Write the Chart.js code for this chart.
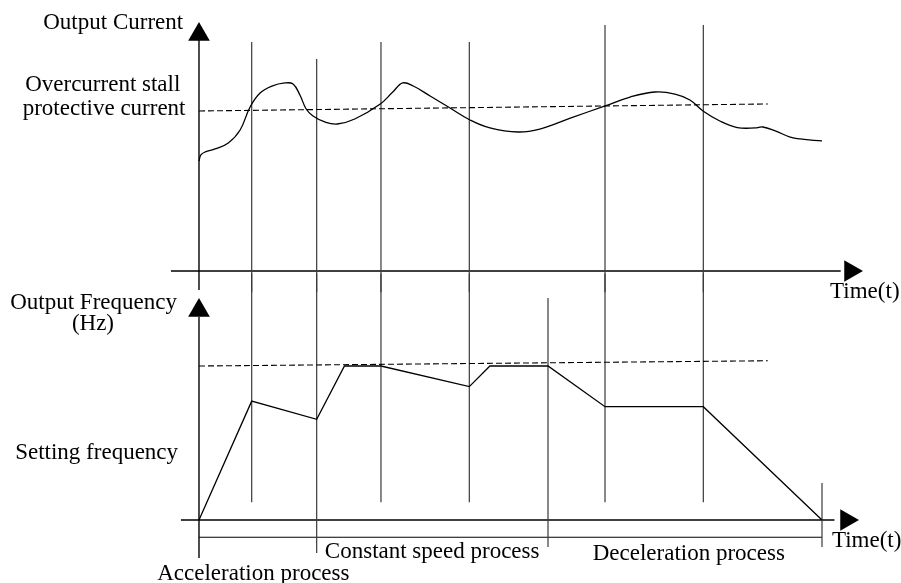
<!DOCTYPE html>
<html><head><meta charset="utf-8">
<script src="https://cdn.jsdelivr.net/npm/chart.js@4"></script>
<style>html,body{margin:0;padding:0;background:#fff;overflow:hidden}canvas{display:block}</style>
</head><body>
<canvas id="c" width="901" height="583"></canvas>
<script>
// ---- data (time in arbitrary units: 0 = start, 100 = stop) ----
const currentTime  = [0, 0.3, 1.0, 2.6, 4.7, 6.6, 8.2, 9.8, 11.7, 13.8, 15.1, 16.2, 17.2, 18.3, 20.2, 22.2, 25.0, 29.1, 31.1, 32.7, 34.4, 37.1, 40.3, 43.5, 46.7, 51.2, 54.7, 59.6, 65.2, 69.2, 73.2, 76.4, 78.8, 80.9, 83.6, 86.4, 89.3, 90.5, 92.5, 94.9, 96.5, 100];
const currentValue = [103, 108.8, 111.6, 114.4, 120, 132.2, 153.8, 166.9, 173.4, 176.3, 175.3, 165, 151.9, 145.3, 139.7, 137.8, 142.5, 156.6, 167.8, 176.3, 173.4, 164.1, 152.8, 141.6, 134.1, 130.3, 133.1, 143.4, 154.7, 163.1, 167.8, 165.9, 160.3, 150, 140.6, 134.5, 134.1, 135, 131.3, 125.6, 123.8, 121.9];
const stallTime    = [0, 91.3];
const stallCurrent = [150, 156.6];

const freqTime     = [0, 8.46, 18.89, 23.35, 29.21, 43.39, 46.7, 56.02, 65.17, 80.95, 100];
const freqValue    = [0, 38.6, 32.7, 50, 50, 43.3, 50, 50, 36.8, 36.8, 0];
const settingTime  = [0, 91.3];
const settingFreq  = [50, 51.7];

// event markers crossing both panels
const eventTimes       = [8.46, 18.89, 29.21, 43.39, 65.17, 80.95];
const eventTopCurrent  = [214.7, 198.8, 214.7, 214.7, 230.6, 230.6];
const eventBottomFreq  = [5.8, -10.7, 5.8, 5.8, 5.8, 5.8];
// phase boundaries (bottom panel)
const phaseTimes   = [56.02, 100];
const phaseTopFreq = [72.1, 12.0];
const phaseBotFreq = [-8.8, -8.8];

const labels = ['Output Current','Overcurrent stall','protective current','Output Frequency','(Hz)','Setting frequency','Time(t)','Time(t)','Acceleration process','Constant speed process','Deceleration process'];

// ---- build datasets ----
const INK = '#000';
function line(xs, ys, axis, extra) {
  return Object.assign({
    data: xs.map((x, i) => ({x, y: ys[i]})),
    yAxisID: axis, showLine: true, pointRadius: 0, borderColor: INK, borderWidth: 1.2,
    backgroundColor: INK, fill: false, tension: 0, clip: false
  }, extra || {});
}
const ds = [];
ds.push(line(currentTime, currentValue, 'yCur', {tension: 0.4, borderWidth: 1.3}));
ds.push(line(stallTime, stallCurrent, 'yCur', {borderDash: [6, 3], borderWidth: 1.1}));
ds.push(line(freqTime, freqValue, 'yFreq', {borderWidth: 1.3}));
ds.push(line(settingTime, settingFreq, 'yFreq', {borderDash: [6, 3], borderWidth: 1.1}));
eventTimes.forEach((t, i) => {
  ds.push(line([t, t], [eventTopCurrent[i], -20], 'yCur', {borderColor: '#3a3a3a', borderWidth: 1.2}));
  ds.push(line([t, t], [80, eventBottomFreq[i]], 'yFreq', {borderColor: '#3a3a3a', borderWidth: 1.2}));
});
phaseTimes.forEach((t, i) => {
  ds.push(line([t, t], [phaseTopFreq[i], phaseBotFreq[i]], 'yFreq', {borderColor: '#3a3a3a', borderWidth: 1.2}));
});
// axes of the diagram
ds.push(line([0, 0], [-17.8, 224], 'yCur', {borderWidth: 1.4}));
ds.push(line([-4.5, 103], [0, 0], 'yCur', {borderWidth: 1.4}));
ds.push(line([0, 0], [-12.3, 66], 'yFreq', {borderWidth: 1.4}));
ds.push(line([-2.9, 102], [0, 0], 'yFreq', {borderWidth: 1.4}));
ds.push(line([0, 100], [-5.6, -5.6], 'yFreq', {borderWidth: 1.2}));
// arrow heads
function arrow(x, y, axis, rot) {
  return {data: [{x, y}], yAxisID: axis, showLine: false, pointStyle: 'triangle', pointRadius: 12.5,
    pointRotation: rot, pointBackgroundColor: INK, pointBorderColor: INK, pointBorderWidth: 0, clip: false};
}
ds.push(arrow(0, 221.7, 'yCur', 0));
ds.push(arrow(104.57, 0, 'yCur', 90));
ds.push(arrow(0, 68.0, 'yFreq', 0));
ds.push(arrow(103.93, 0, 'yFreq', 90));

// label anchors (data units)
const labelAnchors = [
  {t: -25.0, axis: 'yCur', v: 227.3},
  {t: -27.9, axis: 'yCur', v: 168.8},
  {t: -28.3, axis: 'yCur', v: 146.3},
  {t: -30.3, axis: 'yFreq', v: 68.5},
  {t: -20.4, axis: 'yFreq', v: 61.7},
  {t: -29.5, axis: 'yFreq', v: 19.8},
  {t: 101.3, axis: 'yCur', v: -25.3},
  {t: 101.6, axis: 'yFreq', v: -8.9},
  {t: -6.7, axis: 'yFreq', v: -19.5},
  {t: 20.2, axis: 'yFreq', v: -12.3},
  {t: 63.2, axis: 'yFreq', v: -13.0}
];
const textPlugin = {
  id: 'texts',
  afterDatasetsDraw(chart) {
    const ctx = chart.ctx;
    ctx.save();
    ctx.font = '23px "Liberation Serif", "Times New Roman", serif';
    ctx.fillStyle = '#000';
    ctx.textAlign = 'left';
    ctx.textBaseline = 'alphabetic';
    labels.forEach((s, i) => {
      const a = labelAnchors[i];
      ctx.fillText(s, chart.scales.x.getPixelForValue(a.t), chart.scales[a.axis].getPixelForValue(a.v));
    });
    ctx.restore();
  }
};

new Chart(document.getElementById('c'), {
  type: 'scatter',
  data: {datasets: ds},
  options: {
    responsive: false, animation: false, devicePixelRatio: 1,
    layout: {padding: 0, autoPadding: false},
    plugins: {legend: {display: false}, tooltip: {enabled: false}},
    events: [],
    scales: {
      x: {type: 'linear', min: -31.94, max: 112.68, display: false},
      yCur: {type: 'linear', position: 'left', min: -292.5, max: 254.06, display: false},
      yFreq: {type: 'linear', position: 'left', min: -20.45, max: 168.83, display: false}
    }
  },
  plugins: [textPlugin]
});
</script>
</body></html>
